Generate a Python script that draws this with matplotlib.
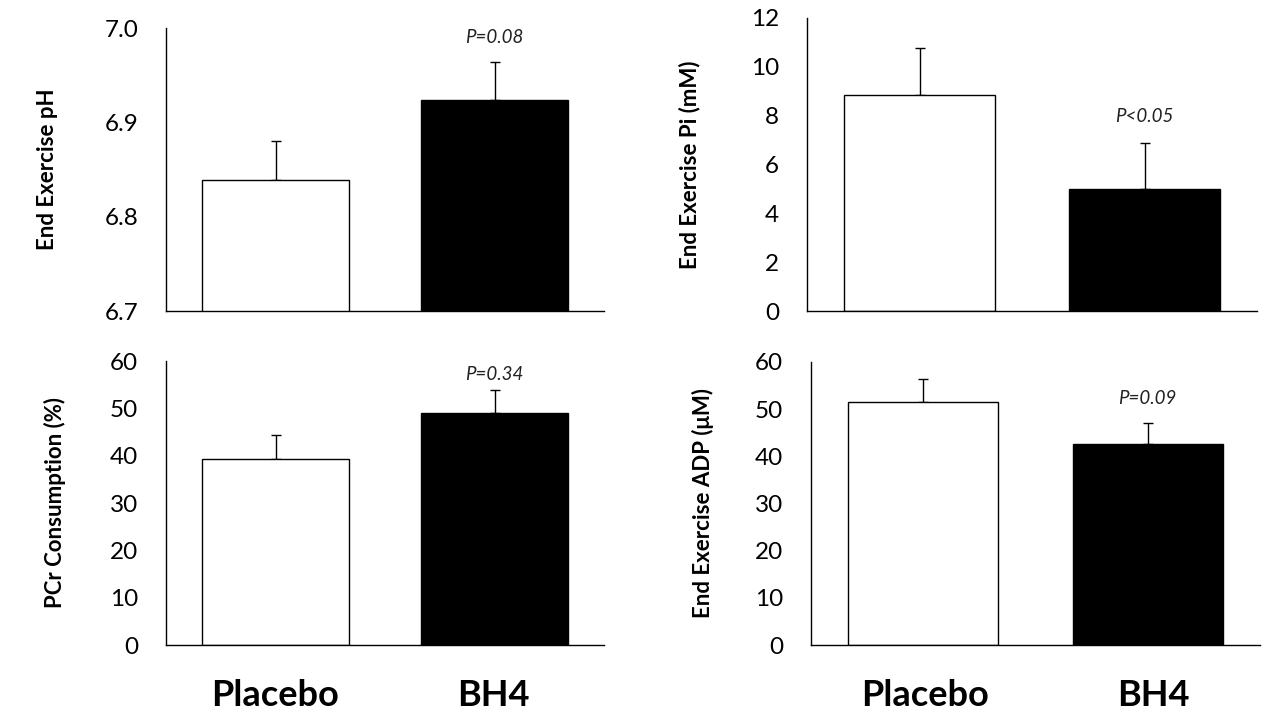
import matplotlib
matplotlib.use("Agg")
import matplotlib.pyplot as plt

plt.rcParams['font.family'] = ['Lato', 'DejaVu Sans']

groups = ["Placebo", "BH4"]
bar_colors = ["white", "black"]

# panel values: mean, upper error (SE)
ph_mean = [6.839, 6.924]
ph_err = [0.041, 0.040]
pi_mean = [8.85, 5.0]
pi_err = [1.93, 1.88]
pcr_mean = [39.4, 49.0]
pcr_err = [4.9, 4.8]
adp_mean = [51.6, 42.7]
adp_err = [4.8, 4.4]

ylabels = ["End Exercise pH", "End Exercise Pi (mM)",
           "PCr Consumption (%)", "End Exercise ADP (\u03bcM)"]
pvals = ["P=0.08", "P<0.05", "P=0.34", "P=0.09"]

W, H = 1280, 720
fig = plt.figure(figsize=(12.8, 7.2), dpi=100)

def px_axes(x0, y0, x1, y1):
    # pixel box (top-left origin) -> figure fraction
    return fig.add_axes([x0 / W, 1 - y1 / H, (x1 - x0) / W, (y1 - y0) / H])

panels = [
    # box, means, errs, ylim, ticks, tick labels, ylabel x, pval y
    ((166, 28, 604, 311), ph_mean, ph_err, (6.7, 7.0), [6.7, 6.8, 6.9, 7.0],
     ["6.7", "6.8", "6.9", "7.0"], 48, 6.99),
    ((807, 18, 1257, 311), pi_mean, pi_err, (0, 12), [0, 2, 4, 6, 8, 10, 12],
     None, 690, 7.95),
    ((166, 361, 604, 645), pcr_mean, pcr_err, (0, 60), [0, 10, 20, 30, 40, 50, 60],
     None, 55, 57.2),
    ((811, 362, 1260, 645), adp_mean, adp_err, (0, 60), [0, 10, 20, 30, 40, 50, 60],
     None, 703, 52.3),
]

x = [0, 1]
for i, (box, means, errs, ylim, ticks, tlabels, ylx, py) in enumerate(panels):
    ax = px_axes(*box)
    ax.bar(x, means, width=0.67, color=bar_colors, edgecolor="black",
           linewidth=1.0, zorder=2)
    ax.errorbar(x, means, yerr=[[0, 0], errs], fmt="none", ecolor="black",
                elinewidth=1.0, capsize=3.5, capthick=1.0, zorder=1)
    ax.set_xlim(-0.5, 1.5)
    ax.set_ylim(*ylim)
    ax.set_yticks(ticks)
    if tlabels:
        ax.set_yticklabels(tlabels)
    ax.set_xticks([])
    ax.tick_params(axis="y", length=0, pad=20, labelsize=17.5)
    for s in ["top", "right"]:
        ax.spines[s].set_visible(False)
    for s in ["left", "bottom"]:
        ax.spines[s].set_linewidth(1.0)
    ax.text(1, py, pvals[i], ha="center", va="center", fontsize=13.5,
            style="italic", color="#222222")
    yc = (box[1] + box[3]) / 2
    fig.text(ylx / W, 1 - yc / H, ylabels[i], rotation=90, ha="center",
             va="center", fontsize=16, fontweight="bold")

# group labels under bottom panels
for xs in [(275, 493), (925, 1153)]:
    for gx, g in zip(xs, groups):
        fig.text(gx / W, 1 - 695 / H, g, ha="center", va="center",
                 fontsize=26, fontweight="bold")

fig.savefig("out.png", dpi=100)
